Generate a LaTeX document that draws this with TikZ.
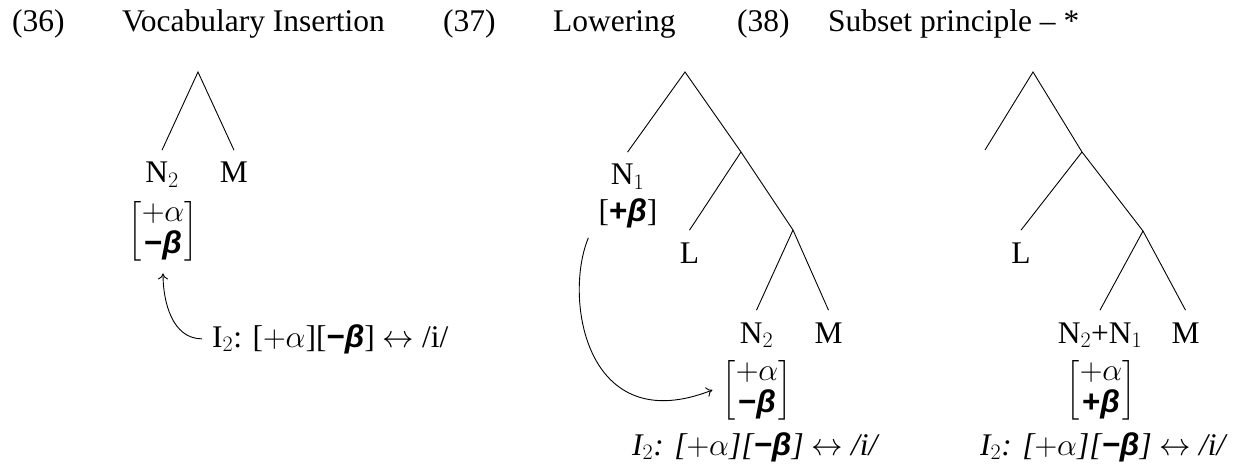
\RequirePackage{fix-cm}
\documentclass[tikz,border=0pt]{standalone}
\usepackage{amsmath}
\usepackage{fontspec}
\setmainfont{Liberation Serif}
\newfontfamily\bsans{Liberation Sans}
\usetikzlibrary{arrows.meta}
\newcommand{\negbeta}{\mbox{\bsans\bfseries −\itshape β}}
\newcommand{\posbeta}{\mbox{\bsans\bfseries +\itshape β}}
\begin{document}
\begin{tikzpicture}[x=1pt,y=-1pt,font=\fontsize{31.5}{32}\selectfont]
\tikzset{
 lbl/.style={anchor=base, inner xsep=0pt, inner ysep=12pt},
 feat/.style={inner sep=10pt},
 ttl/.style={anchor=base west, inner sep=0pt},
 rule/.style={anchor=base west, inner sep=10pt},
 branch/.style={line width=0.9pt},
 link/.style={line width=0.9pt, -{To[length=6pt,width=10pt]}},
}
\useasboundingbox (0,0) rectangle (1248,465);
% titles
\node[ttl] (t36) at (12,32) {(36)};
\node[ttl] (h36) at (122,32) {Vocabulary Insertion};
\node[ttl] (t37) at (443,32) {(37)};
\node[ttl] (h37) at (553,32) {Lowering};
\node[ttl] (t38) at (737,32) {(38)};
\node[ttl] (h38) at (828,32) {Subset principle – *};
% tree 36
\coordinate (r36) at (198,72);
\node[lbl] (n36) at (162,183) {N$_2$};
\node[lbl] (m36) at (234,183) {M};
\draw[branch] (n36.north) -- (r36) -- (m36.north);
\node[feat] (f36) at (163,231) {$\begin{bmatrix}+\alpha\\ \negbeta\end{bmatrix}$};
\node[rule] (v36) at (202,347) {I$_2$: [$+\alpha$][\negbeta] $\leftrightarrow$ /i/};
\draw[link] (v36.west) .. controls +(-30,0) and +(0,28) .. (f36.south);
% tree 37
\coordinate (r37) at (685,72);
\coordinate (a37) at (741,152);
\coordinate (b37) at (793,230);
\node[lbl] (n37a) at (627.5,185) {N$_1$};
\node[feat] (f37a) at (628,213) {[\posbeta]};
\node[lbl] (l37) at (689.5,263) {L};
\node[lbl] (n37b) at (756.5,343) {N$_2$};
\node[lbl] (m37) at (828.5,343) {M};
\node[feat] (f37) at (757,390) {$\begin{bmatrix}+\alpha\\ \negbeta\end{bmatrix}$};
\node[ttl] (v37) at (632,455) {\itshape I$_2$: [$+\alpha$][\negbeta] $\leftrightarrow$ /i/};
\draw[branch] (n37a.north) -- (r37) -- (a37) -- (b37) -- (m37.north);
\draw[branch] (a37) -- (l37.north);
\draw[branch] (b37) -- (n37b.north);
\draw[link] (f37a.south west) .. controls +(-25,60) and +(-127,50) .. (f37.west);
% tree 38
\coordinate (r38) at (1033,72);
\coordinate (e38) at (985,150);
\coordinate (a38) at (1082,152);
\coordinate (b38) at (1143,231);
\node[lbl] (l38) at (1021,263) {L};
\node[lbl] (n38) at (1100,343) {N$_2$+N$_1$};
\node[lbl] (m38) at (1185.5,343) {M};
\node[feat] (f38) at (1101,390) {$\begin{bmatrix}+\alpha\\ \posbeta\end{bmatrix}$};
\node[ttl] (v38) at (980,455) {\itshape I$_2$: [$+\alpha$][\negbeta] $\leftrightarrow$ /i/};
\draw[branch] (e38) -- (r38) -- (a38) -- (b38) -- (m38.north);
\draw[branch] (a38) -- (l38.north);
\draw[branch] (b38) -- (n38.north);
\end{tikzpicture}
\end{document}
